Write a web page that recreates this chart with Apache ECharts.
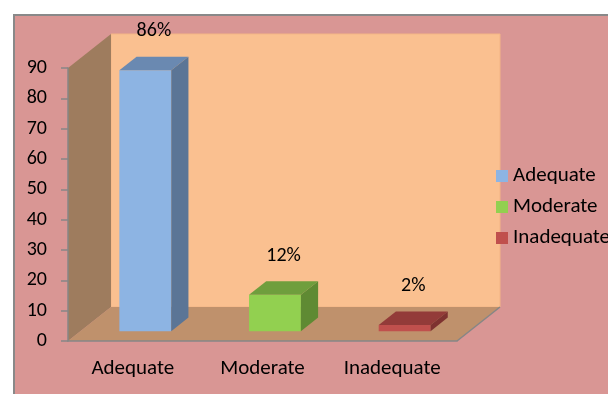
<!DOCTYPE html>
<html>
<head>
<meta charset="utf-8">
<script src="https://cdn.jsdelivr.net/npm/echarts@6/dist/echarts.min.js"></script>
<style>
  html, body { margin: 0; padding: 0; background: #ffffff; }
  #chart { width: 608px; height: 394px; }
</style>
</head>
<body>
<div id="chart"></div>
<script>
const categories = ["Adequate", "Moderate", "Inadequate"];
const values = [86, 12, 2];
const valueLabels = ["86%", "12%", "2%"];
const yMax = 90;
const yInterval = 10;

// face colours per bar: front, top, side
const barColors = [
  ["#8db4e3", "#6a89b1", "#5b7596"],
  ["#92d050", "#6f9e3d", "#5f8a33"],
  ["#c0504d", "#933b39", "#7e3230"],
];

const FONT = "Carlito, Lato, sans-serif";
const DX = 43, DY = -34; // depth of the 3d box
const BAR_FRONT = 0.29, BAR_DEPTH = 0.4, BAR_WIDTH = 0.4;

const chart = echarts.init(document.getElementById("chart"));

function renderWalls(params, api) {
  const cs = params.coordSys;
  const x = cs.x, y = cs.y, w = cs.width, h = cs.height;
  return {
    type: "group",
    children: [
      {
        type: "rect",
        shape: { x: x + DX, y: y + DY, width: w, height: h },
        style: { fill: "#fac090", stroke: "#f3b585", lineWidth: 1 },
      },
      {
        type: "polygon",
        shape: { points: [[x, y], [x + DX, y + DY], [x + DX, y + h + DY], [x, y + h]] },
        style: { fill: "#9e7c5e" },
      },
      {
        type: "polygon",
        shape: { points: [[x, y + h], [x + DX, y + h + DY], [x + w + DX, y + h + DY], [x + w, y + h]] },
        style: { fill: "#bf916c" },
      },
      {
        type: "line",
        shape: { x1: x + w, y1: y + h, x2: x + w + DX, y2: y + h + DY },
        style: { stroke: "#868686", lineWidth: 1.5 },
      },
    ],
  };
}

function renderBar(params, api) {
  const idx = params.seriesIndex - 1;
  const cat = api.value(0);
  const v = api.value(1);
  const base = api.coord([cat, 0]);
  const top = api.coord([cat, v]);
  const band = api.size([1, 0])[0];
  const w = band * BAR_WIDTH;
  const x0 = base[0] - w / 2 + DX * BAR_FRONT;
  const x1 = x0 + w;
  const yb = base[1] + DY * BAR_FRONT;
  const yt = top[1] + DY * BAR_FRONT;
  const dx = DX * BAR_DEPTH, dy = DY * BAR_DEPTH;
  const c = barColors[idx];
  return {
    type: "group",
    children: [
      {
        type: "rect",
        shape: { x: x0, y: yt, width: w, height: yb - yt },
        style: { fill: c[0] },
      },
      {
        type: "polygon",
        shape: { points: [[x0, yt], [x0 + dx, yt + dy], [x1 + dx, yt + dy], [x1, yt]] },
        style: { fill: c[1] },
      },
      {
        type: "polygon",
        shape: { points: [[x1, yt], [x1 + dx, yt + dy], [x1 + dx, yb + dy], [x1, yb]] },
        style: { fill: c[2] },
      },
      {
        type: "text",
        style: {
          text: valueLabels[idx],
          x: (x0 + x1) / 2 + dx / 2,
          y: yt - 39,
          align: "center",
          verticalAlign: "middle",
          fill: "#000",
          font: "20px " + FONT,
        },
      },
    ],
  };
}

const series = [
  {
    name: "walls",
    type: "custom",
    z: 1,
    silent: true,
    renderItem: renderWalls,
    data: [[0, 0]],
  },
];
categories.forEach((name, i) => {
  series.push({
    name: name,
    type: "custom",
    z: 4,
    renderItem: renderBar,
    itemStyle: { color: barColors[i][0] },
    data: [[i, values[i]]],
  });
});

const option = {
  backgroundColor: "#ffffff",
  animation: false,
  textStyle: { fontFamily: FONT },
  graphic: [
    {
      type: "rect",
      left: 13,
      top: 14,
      z: 0,
      shape: { width: 620, height: 400 },
      style: { fill: "#d99694", stroke: "#898989", lineWidth: 2 },
    },
  ],
  grid: { left: 68, top: 68, width: 389, height: 273, containLabel: false },
  legend: {
    data: categories,
    orient: "vertical",
    left: 496,
    top: 165,
    padding: 0,
    icon: "rect",
    itemWidth: 12,
    itemHeight: 12,
    itemGap: 9,
    textStyle: { fontSize: 21, lineHeight: 22, color: "#000", fontFamily: FONT },
  },
  xAxis: {
    type: "category",
    data: categories,
    z: 3,
    axisLine: { lineStyle: { color: "#868686", width: 1.5 } },
    axisTick: { length: 6, lineStyle: { color: "#868686", width: 1.5 } },
    axisLabel: { fontSize: 21, color: "#000", margin: 17, fontFamily: FONT },
  },
  yAxis: {
    type: "value",
    min: 0,
    max: yMax,
    interval: yInterval,
    z: 3,
    axisLine: { show: true, lineStyle: { color: "#868686", width: 1.5 } },
    axisTick: { show: true, length: 7, lineStyle: { color: "#868686", width: 1.5 } },
    axisLabel: { fontSize: 20, color: "#000", margin: 21, fontFamily: FONT },
    splitLine: { show: false },
  },
  series: series,
};

chart.setOption(option);
</script>
</body>
</html>
